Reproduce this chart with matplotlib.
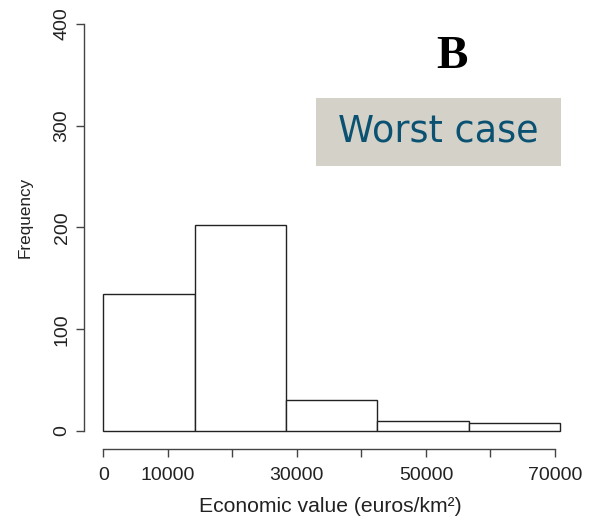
import matplotlib
matplotlib.use("Agg")
import matplotlib.pyplot as plt
from matplotlib.patches import Rectangle
import numpy as np

# histogram
bin_edges = [0, 14150, 28300, 42450, 56600, 70750]
counts = [135, 202, 30, 10, 8]
x_ticks = [0, 10000, 20000, 30000, 40000, 50000, 60000, 70000]
x_labels = ["0", "10000", "", "30000", "", "50000", "", "70000"]
y_ticks = [0, 100, 200, 300, 400]

W, H = 589, 526
fig = plt.figure(figsize=(W / 100, H / 100), dpi=100)
ax = fig.add_axes([83.9 / W, 1 - 449.3 / H, 490.5 / W, 443.6 / H])

edges = np.array(bin_edges)
ax.bar(edges[:-1], counts, width=np.diff(edges), align="edge",
       facecolor="white", edgecolor="#222222", linewidth=1.0)

ax.set_xlim(-3000, 73000)
ax.set_ylim(-18, 418)

for s in ["top", "right"]:
    ax.spines[s].set_visible(False)
ax.spines["left"].set_bounds(0, 400)
ax.spines["bottom"].set_bounds(0, 70000)
for s in ["left", "bottom"]:
    ax.spines[s].set_color("#444444")
    ax.spines[s].set_linewidth(1.0)

font = "Liberation Sans"
ax.set_xticks(x_ticks)
ax.set_xticklabels(x_labels, fontsize=14, family=font, color="#222222")
ax.set_yticks(y_ticks)
ax.set_yticklabels([str(v) for v in y_ticks], fontsize=14, family=font,
                   color="#222222", rotation=90, va="center")
ax.tick_params(axis="both", direction="out", length=6, width=1.0,
               color="#444444")
ax.tick_params(axis="x", pad=7)
ax.tick_params(axis="y", pad=3.5)

ax.set_xlabel("Economic value (euros/km²)", fontsize=15.2, family=font,
              color="#222222", va="top")
ax.xaxis.set_label_coords(0.5017, -0.1075)
ax.set_ylabel("Frequency", fontsize=12.3, family=font, color="#222222")
ax.yaxis.set_label_coords(-0.104, 0.5237)

# panel letter and label box
fig.text(452 / W, 1 - 57 / H, "B", fontsize=34, family="Liberation Serif",
         weight="bold", ha="center", va="center", color="black")
fig.add_artist(Rectangle((316 / W, 1 - 165.7 / H), (561 - 316) / W,
                         (165.7 - 97.7) / H, transform=fig.transFigure,
                         facecolor="#d4d1c8", edgecolor="none"))
fig.text(438.5 / W, 1 - 131 / H, "Worst case", fontsize=26.3,
         family="DejaVu Sans", ha="center", va="center", color="#0b5272")

fig.savefig("out.png", dpi=100)
